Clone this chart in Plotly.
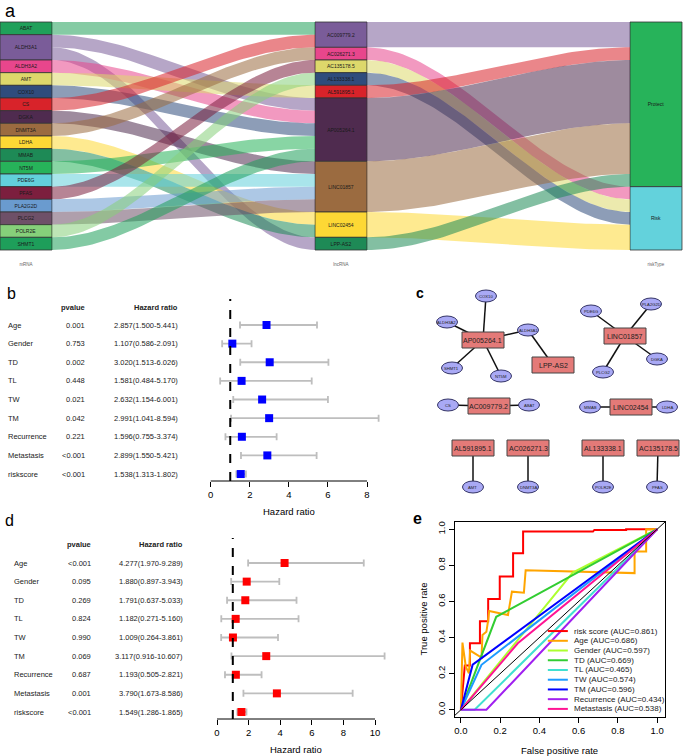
import numpy as np
import plotly.graph_objects as go

W, H = 685, 756
FONT = "Arial, Liberation Sans, Helvetica, sans-serif"

# ------------------------------------------------------------------ data
# panel a / c : mRNA - lncRNA links and lncRNA risk type
mrna_genes = ["ABAT", "ALDH3A1", "ALDH3A2", "AMT", "COX10", "CS", "DGKA", "DNMT3A", "LDHA",
              "MMAB", "NT5M", "PDE6G", "PFAS", "PLA2G2D", "PLCG2", "POLR2E", "SHMT1"]
lnc_genes = ["AC009779.2", "AC026271.3", "AC135178.5", "AL133338.1", "AL591895.1",
             "AP005264.1", "LINC01857", "LINC02454", "LPP-AS2"]
risk_types = ["Protect", "Risk"]
lnc_risk = ["Protect", "Risk", "Risk", "Risk", "Protect", "Protect", "Protect", "Risk", "Protect"]
link_mrna = ["ABAT", "ALDH3A1", "ALDH3A1", "ALDH3A2", "AMT", "COX10", "CS", "DGKA", "DNMT3A",
             "LDHA", "MMAB", "NT5M", "PDE6G", "PFAS", "PLA2G2D", "PLCG2", "POLR2E", "SHMT1"]
link_lnc = ["AC009779.2", "AP005264.1", "LPP-AS2", "AP005264.1", "AL591895.1", "AP005264.1",
            "AC009779.2", "LINC01857", "AC026271.3", "LINC02454", "LINC02454", "AP005264.1",
            "LINC01857", "AC135178.5", "LINC01857", "LINC01857", "AL133338.1", "AP005264.1"]

# panel b : univariate Cox
vars_b = ["Age", "Gender", "TD", "TL", "TW", "TM", "Recurrence", "Metastasis", "riskscore"]
pval_b = ["0.001", "0.753", "0.002", "0.448", "0.021", "0.042", "0.221", "<0.001", "<0.001"]
hr_b = [2.857, 1.107, 3.020, 1.581, 2.632, 2.991, 1.596, 2.899, 1.538]
lo_b = [1.500, 0.586, 1.513, 0.484, 1.154, 1.041, 0.755, 1.550, 1.313]
hi_b = [5.441, 2.091, 6.026, 5.170, 6.001, 8.594, 3.374, 5.421, 1.802]

# panel d : multivariate Cox
vars_d = ["Age", "Gender", "TD", "TL", "TW", "TM", "Recurrence", "Metastasis", "riskscore"]
pval_d = ["<0.001", "0.095", "0.269", "0.824", "0.990", "0.069", "0.687", "0.001", "<0.001"]
hr_d = [4.277, 1.880, 1.791, 1.182, 1.009, 3.117, 1.193, 3.790, 1.549]
lo_d = [1.970, 0.897, 0.637, 0.271, 0.264, 0.916, 0.505, 1.673, 1.286]
hi_d = [9.289, 3.943, 5.033, 5.160, 3.861, 10.607, 2.821, 8.586, 1.865]

# panel e : ROC curves
roc_names = ["risk score", "Age", "Gender", "TD", "TL", "TW", "TM", "Recurrence", "Metastasis"]
roc_auc = [0.861, 0.686, 0.597, 0.669, 0.465, 0.574, 0.596, 0.434, 0.538]
roc_fpr = [
    [0, 0.02, 0.046, 0.046, 0.097, 0.097, 0.139, 0.139, 0.198, 0.198, 0.266, 0.266, 0.317, 0.317, 0.673, 0.68, 0.842, 0.842, 1.0],
    [0, 0.008, 0.025, 0.041, 0.047, 0.06, 0.105, 0.11, 0.13, 0.139, 0.144, 0.24, 0.26, 0.321, 0.33, 0.885, 0.885, 0.944, 0.944, 1.0],
    [0, 0.57, 1.0],
    [0, 0.18, 1.0],
    [0, 0.07, 1.0],
    [0, 0.105, 1.0],
    [0, 0.06, 1.0],
    [0, 0.13, 1.0],
    [0, 0.29, 1.0],
]
roc_tpr = [
    [0, 0.245, 0.245, 0.369, 0.369, 0.49, 0.49, 0.613, 0.613, 0.738, 0.738, 0.867, 0.867, 0.987, 0.987, 0.996, 0.996, 1.0, 1.0],
    [0, 0.372, 0.239, 0.202, 0.328, 0.32, 0.289, 0.414, 0.432, 0.497, 0.547, 0.525, 0.654, 0.648, 0.773, 0.757, 0.876, 0.876, 1.0, 1.0],
    [0, 0.76, 1.0],
    [0, 0.515, 1.0],
    [0, 0.0, 1.0],
    [0, 0.249, 1.0],
    [0, 0.25, 1.0],
    [0, 0.0, 1.0],
    [0, 0.368, 1.0],
]

# ------------------------------------------------------------------ styles
mrna_colors = ["#20A05A", "#7A5C99", "#E8468C", "#DDD86B", "#2F4C7C", "#D8232A", "#4F2B4F", "#9B6B40",
               "#FDD835", "#1E8A56", "#27B35A", "#62D0DB", "#7C1F3E", "#6A9BCF", "#6E5068", "#86D07A", "#1E9E5A"]
lnc_colors = ["#7A5C99", "#E8468C", "#DDD86B", "#2F4C7C", "#D8232A", "#4F2B4F", "#9B6B40", "#FDD835", "#1E8A56"]
risk_colors = ["#27B35A", "#63D2DC"]
roc_colors = ["#FF0000", "#FFA500", "#ADFF2F", "#32CD32", "#40E0D0", "#1E9BFF", "#0000FF", "#A020F0", "#FF1493"]

# network layout (pixel-like layout coordinates of panel c)
lnc_pos = {"AP005264.1": (483, 340), "LPP-AS2": (553, 365), "LINC01857": (625, 336),
           "AC009779.2": (489, 406), "LINC02454": (631, 407), "AL591895.1": (473, 448),
           "AC026271.3": (528, 448), "AL133338.1": (603, 448), "AC135178.5": (658, 448)}
mrna_pos = {"COX10": (486, 296), "ALDH3A2": (447, 322), "ALDH3A1": (528, 330), "SHMT1": (452, 368),
            "NT5M": (501, 376), "PDE6G": (591, 311), "PLA2G2D": (651, 304), "DGKA": (657, 359),
            "PLCG2": (603, 372), "CS": (448, 405), "ABAT": (529, 405), "MMAB": (590, 407),
            "LDHA": (667, 407), "AMT": (473, 487), "DNMT3A": (528, 487), "POLR2E": (603, 487),
            "PFAS": (657, 487)}


def rgba(hexc, a):
    h = hexc.lstrip("#")
    return "rgba(%d,%d,%d,%.2f)" % (int(h[0:2], 16), int(h[2:4], 16), int(h[4:6], 16), a)


def dom_x(a, b):
    return [a / W, b / W]


def dom_y(top, bot):
    return [1 - bot / H, 1 - top / H]


fig = go.Figure()
shapes = []
annots = []

# ================================================================== panel a (alluvial)
BW = 0.165
n = len(link_mrna)
mi = {g: i for i, g in enumerate(mrna_genes)}
li = {g: i for i, g in enumerate(lnc_genes)}
ri = {r: i for i, r in enumerate(risk_types)}

m_count = np.array([link_mrna.count(g) for g in mrna_genes])
l_count = np.array([link_lnc.count(g) for g in lnc_genes])
r_count = np.array([sum(l_count[i] for i in range(len(lnc_genes)) if lnc_risk[i] == r) for r in risk_types])
m_top = np.concatenate([[0], np.cumsum(m_count)[:-1]])
l_top = np.concatenate([[0], np.cumsum(l_count)[:-1]])
r_top = np.concatenate([[0], np.cumsum(r_count)[:-1]])
total = int(m_count.sum())

order_m = sorted(range(n), key=lambda k: (mi[link_mrna[k]], li[link_lnc[k]]))
pos_m = {k: p for p, k in enumerate(order_m)}
order_l = sorted(range(n), key=lambda k: (li[link_lnc[k]], mi[link_mrna[k]]))
pos_l = {k: p for p, k in enumerate(order_l)}
order_r = sorted(range(len(lnc_genes)), key=lambda j: (ri[lnc_risk[j]], j))
pos_r = {}
c = 0
for j in order_r:
    pos_r[j] = c
    c += l_count[j]


def ribbon(x0, x1, a0, a1, h, npts=60):
    t = np.linspace(0, 1, npts)
    s = t * t * (3 - 2 * t)
    xs = x0 + (x1 - x0) * t
    top = a0 + (a1 - a0) * s
    bot = top + h
    X = np.concatenate([xs, xs[::-1], xs[:1]])
    Y = np.concatenate([top, bot[::-1], top[:1]])
    return X, Y


for k in range(n):
    X, Y = ribbon(0 + BW / 2, 1 - BW / 2, pos_m[k], pos_l[k], 1)
    fig.add_trace(go.Scatter(x=X, y=Y, mode="lines", fill="toself",
                             fillcolor=rgba(mrna_colors[mi[link_mrna[k]]], 0.55),
                             line=dict(width=0, color="rgba(0,0,0,0)"),
                             hoverinfo="skip", xaxis="x", yaxis="y"))
for j in range(len(lnc_genes)):
    X, Y = ribbon(1 + BW / 2, 2 - BW / 2, l_top[j], pos_r[j], l_count[j])
    fig.add_trace(go.Scatter(x=X, y=Y, mode="lines", fill="toself",
                             fillcolor=rgba(lnc_colors[j], 0.55),
                             line=dict(width=0, color="rgba(0,0,0,0)"),
                             hoverinfo="skip", xaxis="x", yaxis="y"))

for col, labels, counts, tops, cols in [(0, mrna_genes, m_count, m_top, mrna_colors),
                                         (1, lnc_genes, l_count, l_top, lnc_colors),
                                         (2, risk_types, r_count, r_top, risk_colors)]:
    fig.add_trace(go.Bar(x=[col] * len(labels), y=counts, base=tops, width=BW,
                         marker=dict(color=cols, line=dict(color="#333333", width=0.8)),
                         text=labels, textposition="inside", insidetextanchor="middle",
                         textangle=0, textfont=dict(size=5, color="#1a1a1a", family=FONT),
                         hoverinfo="skip", xaxis="x", yaxis="y"))

fig.add_trace(go.Scatter(x=[0, 1, 2], y=[total + 1.2] * 3, mode="text",
                         text=["mRNA", "lncRNA", "riskType"],
                         textfont=dict(size=4.5, color="#666666", family=FONT),
                         hoverinfo="skip", xaxis="x", yaxis="y"))

PXU = (250 - 22) / total
fig.update_layout(
    xaxis=dict(domain=dom_x(0, 685), range=[-26 / 315, 2 + 29 / 315], visible=False),
    yaxis=dict(domain=dom_y(15, 270), range=[total + 20 / PXU, -7 / PXU], visible=False),
)

# ================================================================== panels b and d (forest)
def forest(ax, vars_, pv, hr, lo, hi, color, x0px, xscale, dom_l, dom_r, row0px, rowstep,
           top_px, bot_px, name_x, p_x, h_x, head_py, title_py, xticks):
    xs, ys = ax
    rows = list(range(len(vars_)))
    fig.add_trace(go.Scatter(
        x=hr, y=rows, mode="markers",
        marker=dict(symbol="square", size=8, color=color),
        error_x=dict(type="data", symmetric=False,
                     array=[h - m for h, m in zip(hi, hr)],
                     arrayminus=[m - l for m, l in zip(hr, lo)],
                     color="#BEBEBE", thickness=1.8, width=3.5),
        hoverinfo="skip", xaxis=xs, yaxis=ys))
    xr = [(dom_l - x0px) / xscale, (dom_r - x0px) / xscale]
    yr = [(bot_px - row0px) / rowstep, (top_px - row0px) / rowstep]
    axn = xs.replace("x", "xaxis")
    ayn = ys.replace("y", "yaxis")
    fig.update_layout({
        axn: dict(domain=dom_x(dom_l, dom_r), range=xr, anchor=ys, showgrid=False, zeroline=False,
                  showline=False, ticks="outside", ticklen=5, tickwidth=1, tickcolor="black",
                  tickvals=xticks, tickfont=dict(size=9.5, family=FONT, color="black")),
        ayn: dict(domain=dom_y(top_px, bot_px), range=yr, anchor=xs, visible=False),
    })
    shapes.append(dict(type="line", xref=xs, yref=ys + " domain", x0=xticks[0], x1=xticks[-1],
                       y0=0, y1=0, line=dict(color="black", width=1)))
    shapes.append(dict(type="line", xref=xs, yref=ys + " domain", x0=1, x1=1, y0=0, y1=1,
                       line=dict(color="black", width=2, dash="dash")))
    for i, v in enumerate(vars_):
        annots.append(dict(x=name_x / W, xref="paper", y=i, yref=ys, text=v, showarrow=False,
                           xanchor="left", yanchor="middle", font=dict(size=7.5, family=FONT, color="#222")))
        annots.append(dict(x=p_x / W, xref="paper", y=i, yref=ys, text=pv[i], showarrow=False,
                           xanchor="right", yanchor="middle", font=dict(size=7.5, family=FONT, color="#222")))
        annots.append(dict(x=h_x / W, xref="paper", y=i, yref=ys,
                           text="%.3f(%.3f-%.3f)" % (hr[i], lo[i], hi[i]), showarrow=False,
                           xanchor="right", yanchor="middle", font=dict(size=7.5, family=FONT, color="#222")))
    hy = (head_py - row0px) / rowstep
    annots.append(dict(x=p_x / W, xref="paper", y=hy, yref=ys, text="<b>pvalue</b>", showarrow=False,
                       xanchor="right", yanchor="middle", font=dict(size=7.5, family=FONT, color="#222")))
    annots.append(dict(x=h_x / W, xref="paper", y=hy, yref=ys, text="<b>Hazard ratio</b>", showarrow=False,
                       xanchor="right", yanchor="middle", font=dict(size=7.5, family=FONT, color="#222")))
    annots.append(dict(x=(xticks[0] + xticks[-1]) / 2, xref=xs, y=1 - title_py / H, yref="paper",
                       text="Hazard ratio", showarrow=False, xanchor="center", yanchor="middle",
                       font=dict(size=9.5, family=FONT, color="black")))


forest(("x2", "y2"), vars_b, pval_b, hr_b, lo_b, hi_b, "#0000FF", 210.7, (367 - 210.7) / 8,
       200, 395, 325, 18.63, 299, 481, 6, 87, 180, 307, 511, [0, 2, 4, 6, 8])
forest(("x3", "y3"), vars_d, pval_d, hr_d, lo_d, hi_d, "#FF0000", 217, (375 - 217) / 10,
       205, 400, 563, 18.625, 538, 719, 12, 93, 185, 544, 749, [0, 2, 4, 6, 8, 10])

# ================================================================== panel c (network)
ex, ey = [], []
for m, l in zip(link_mrna, link_lnc):
    ex += [mrna_pos[m][0], lnc_pos[l][0], None]
    ey += [mrna_pos[m][1], lnc_pos[l][1], None]
fig.add_trace(go.Scatter(x=ex, y=ey, mode="lines", line=dict(color="#111111", width=1.5),
                         hoverinfo="skip", xaxis="x4", yaxis="y4"))
fig.update_layout(
    xaxis4=dict(domain=dom_x(400, 685), range=[400, 685], visible=False),
    yaxis4=dict(domain=dom_y(285, 510), range=[510, 285], visible=False),
)
RW, RH = 42, 16
EW, EH = 21, 12
for g in lnc_genes:
    x, y = lnc_pos[g]
    shapes.append(dict(type="rect", xref="x4", yref="y4", x0=x - RW / 2, x1=x + RW / 2,
                       y0=y - RH / 2, y1=y + RH / 2, fillcolor="#E47A78",
                       line=dict(color="#444444", width=1)))
    annots.append(dict(x=x, y=y, xref="x4", yref="y4", text=g, showarrow=False,
                       xanchor="center", yanchor="middle", font=dict(size=7, family=FONT, color="#222")))
for g in mrna_genes:
    x, y = mrna_pos[g]
    shapes.append(dict(type="circle", xref="x4", yref="y4", x0=x - EW / 2, x1=x + EW / 2,
                       y0=y - EH / 2, y1=y + EH / 2, fillcolor="#A9A9F5",
                       line=dict(color="#333366", width=1)))
    annots.append(dict(x=x, y=y, xref="x4", yref="y4", text=g, showarrow=False,
                       xanchor="center", yanchor="middle", font=dict(size=4.2, family=FONT, color="#222")))

# ================================================================== panel e (ROC)
for name, fx, ty, col in zip(roc_names, roc_fpr, roc_tpr, roc_colors):
    fig.add_trace(go.Scatter(x=fx, y=ty, mode="lines", line=dict(color=col, width=2),
                             hoverinfo="skip", xaxis="x5", yaxis="y5"))
fig.add_trace(go.Scatter(x=[-0.05, 1.05], y=[-0.05, 1.05], mode="lines",
                         line=dict(color="black", width=1), hoverinfo="skip", xaxis="x5", yaxis="y5"))
tick_e = [0, 0.2, 0.4, 0.6, 0.8, 1.0]
fig.update_layout(
    xaxis5=dict(domain=dom_x(455, 665), range=[-0.03, 1.04], anchor="y5", showgrid=False, zeroline=False,
                showline=True, mirror=True, linecolor="black", linewidth=1, ticks="outside", ticklen=5,
                tickcolor="black", tickvals=tick_e, tickformat=".1f",
                tickfont=dict(size=9.5, family=FONT, color="black")),
    yaxis5=dict(domain=dom_y(522, 717), range=[-0.04, 1.04], anchor="x5", showgrid=False, zeroline=False,
                showline=True, mirror=True, linecolor="black", linewidth=1, ticks="outside", ticklen=5,
                tickcolor="black", tickvals=tick_e, tickformat=".1f", tickangle=-90,
                tickfont=dict(size=9.5, family=FONT, color="black")),
)
for i, (name, auc, col) in enumerate(zip(roc_names, roc_auc, roc_colors)):
    yy = 0.436 - 0.0539 * i
    shapes.append(dict(type="line", xref="x5", yref="y5", x0=0.443, x1=0.545, y0=yy, y1=yy,
                       line=dict(color=col, width=2)))
    annots.append(dict(x=0.565, y=yy, xref="x5", yref="y5", text="%s (AUC=%.3f)" % (name, auc),
                       showarrow=False, xanchor="left", yanchor="middle",
                       font=dict(size=8, family=FONT, color="#222")))
annots.append(dict(x=0.5, xref="x5", y=1 - 750 / H, yref="paper", text="False positive rate",
                   showarrow=False, xanchor="center", yanchor="middle",
                   font=dict(size=9.5, family=FONT, color="black")))
annots.append(dict(x=423 / W, xref="paper", y=0.5, yref="y5", text="True positive rate", textangle=-90,
                   showarrow=False, xanchor="center", yanchor="middle",
                   font=dict(size=9.5, family=FONT, color="black")))

# ================================================================== panel letters
for letter, px, py, size, bold in [("a", 3, 11, 18, False), ("b", 5, 294, 16, False), ("c", 414, 293, 14, True),
                                   ("d", 3, 520, 16, False), ("e", 411, 518, 16, True)]:
    annots.append(dict(x=px / W, y=1 - py / H, xref="paper", yref="paper",
                       text=("<b>%s</b>" % letter) if bold else letter, showarrow=False,
                       xanchor="left", yanchor="middle", font=dict(size=size, family=FONT, color="black")))

fig.update_layout(width=W, height=H, margin=dict(l=0, r=0, t=0, b=0), showlegend=False,
                  paper_bgcolor="white", plot_bgcolor="white", barmode="overlay",
                  shapes=shapes, annotations=annots, font=dict(family=FONT))
fig.write_html("out.html", config={"displayModeBar": False, "staticPlot": True},
               post_script="document.body.style.margin='0';document.body.style.overflow='hidden';")
